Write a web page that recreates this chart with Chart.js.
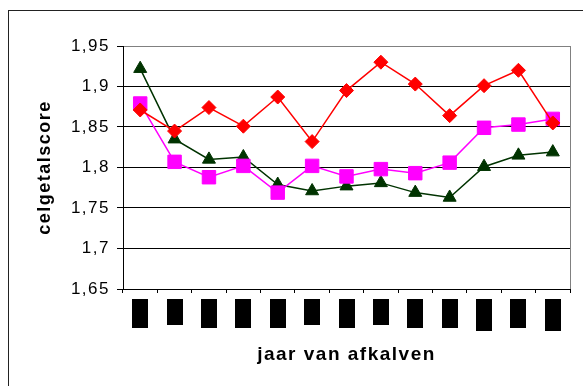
<!DOCTYPE html>
<html>
<head>
<meta charset="utf-8">
<script src="https://cdn.jsdelivr.net/npm/chart.js@4/dist/chart.umd.min.js"></script>
<style>
  html, body { margin: 0; padding: 0; background: #fff; }
  canvas { display: block; }
</style>
</head>
<body>
<canvas id="myChart" width="583" height="386"></canvas>
<script>
const categories = ["1", "2", "3", "4", "5", "6", "7", "8", "9", "10", "11", "12", "13"];

const reeks1 = [1.871, 1.845, 1.874, 1.851, 1.887, 1.832, 1.895, 1.930, 1.903, 1.864, 1.901, 1.920, 1.855];
const reeks2 = [1.879, 1.807, 1.788, 1.802, 1.769, 1.802, 1.789, 1.798, 1.793, 1.806, 1.849, 1.853, 1.860];
const reeks3 = [1.922, 1.835, 1.810, 1.813, 1.779, 1.771, 1.777, 1.781, 1.769, 1.763, 1.801, 1.815, 1.819];

const yMin = 1.65;
const yMax = 1.95;
const yStep = 0.05;

// the category labels are blacked out; length of each black bar
const blockLengths = [29, 26, 29, 29, 29, 26, 29, 26, 29, 29, 32, 29, 32];

const ctx = document.getElementById("myChart");

const spacing = (chart) => { chart.ctx.letterSpacing = "1.5px"; };

const frame = {
  id: "frame",
  beforeLayout: spacing,
  beforeDraw: spacing,
  afterDraw(chart) {
    const c = chart.ctx;
    const { top, bottom, right } = chart.chartArea;
    c.save();
    // outer border
    c.strokeStyle = "#222";
    c.lineWidth = 1;
    c.strokeRect(8.5, 10.5, 700, 500);
    // plot area border on the right
    c.strokeStyle = "#808080";
    c.beginPath();
    c.moveTo(Math.round(right) + 0.5, top);
    c.lineTo(Math.round(right) + 0.5, bottom);
    c.stroke();
    // blacked-out year labels
    const x = chart.scales.x;
    c.fillStyle = "#000";
    blockLengths.forEach((len, i) => {
      const px = Math.round(x.getPixelForValue(i));
      c.fillRect(px - 8, Math.round(bottom) + 10, 16, len);
    });
    c.restore();
  },
};

Chart.defaults.font.family = '"Liberation Sans", Arial, sans-serif';
Chart.defaults.color = "#000";

const line = (label, data, color, style, radius) => ({
  label,
  data,
  borderColor: color,
  backgroundColor: color,
  borderWidth: 1.5,
  pointStyle: style,
  pointRadius: radius,
  pointBorderWidth: 1,
  pointBackgroundColor: color,
  pointBorderColor: color,
  tension: 0,
});

new Chart(ctx, {
  type: "line",
  data: {
    labels: categories,
    datasets: [
      line("Reeks1", reeks1, "#ff0000", "rectRot", 7),
      line("Reeks2", reeks2, "#ff00ff", "rect", 9.5),
      line("Reeks3", reeks3, "#003300", "triangle", 7.5),
    ],
  },
  options: {
    responsive: false,
    animation: false,
    layout: { padding: { top: 46, right: 13, left: 0, bottom: 0 } },
    plugins: { legend: { display: false }, tooltip: { enabled: false } },
    scales: {
      x: {
        offset: true,
        grid: { offset: true, drawOnChartArea: false, tickLength: 4, color: "#000" },
        border: { color: "#000", width: 1 },
        ticks: { display: false },
        title: {
          display: true,
          text: "jaar van afkalven",
          font: { size: 19, weight: "bold" },
          padding: { top: 0, bottom: 20 },
        },
        afterFit: (s) => { s.height = 97; },
      },
      y: {
        min: yMin,
        max: yMax,
        ticks: {
          stepSize: yStep,
          font: { size: 17 },
          padding: 7,
          callback: (v) => v.toLocaleString("nl-NL", { maximumFractionDigits: 2 }),
        },
        grid: {
          color: (c) => (c.index === c.chart.scales.y.ticks.length - 1 ? "#808080" : "#000"),
          tickColor: "#000",
          tickLength: 6,
        },
        border: { color: "#000", width: 1 },
        title: {
          display: true,
          text: "celgetalscore",
          font: { size: 18, weight: "bold" },
          padding: { top: 34, bottom: 0 },
        },
        afterFit: (s) => { s.width = 123; },
      },
    },
  },
  plugins: [frame],
});
</script>
</body>
</html>
